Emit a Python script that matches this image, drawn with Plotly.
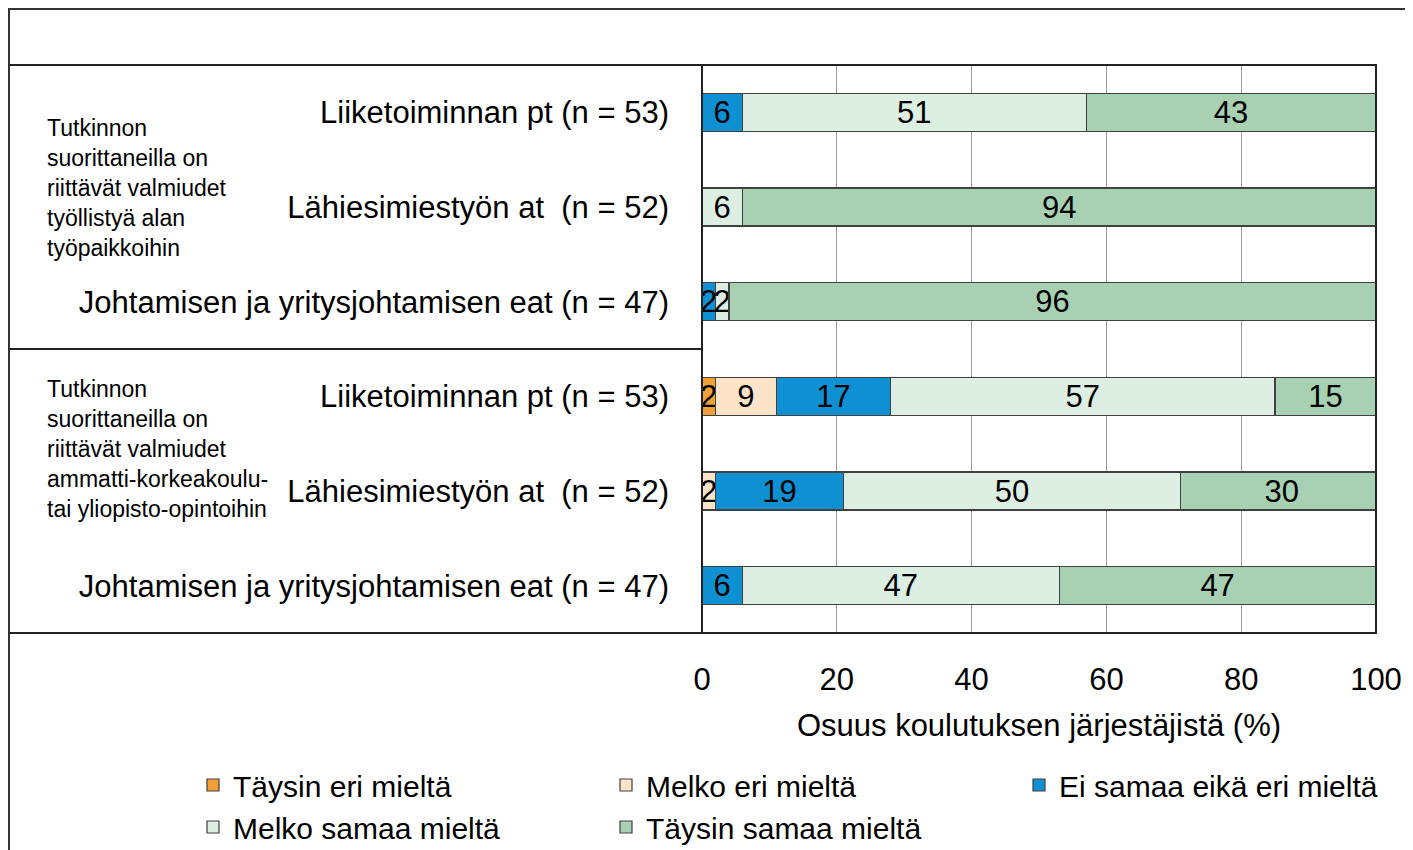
import plotly.graph_objects as go

# data
row_labels = [
    "Liiketoiminnan pt (n = 53)",
    "Lähiesimiestyön at  (n = 52)",
    "Johtamisen ja yritysjohtamisen eat (n = 47)",
    "Liiketoiminnan pt (n = 53)",
    "Lähiesimiestyön at  (n = 52)",
    "Johtamisen ja yritysjohtamisen eat (n = 47)",
]
group_labels = [
    "Tutkinnon<br>suorittaneilla on<br>riittävät valmiudet<br>työllistyä alan<br>työpaikkoihin",
    "Tutkinnon<br>suorittaneilla on<br>riittävät valmiudet<br>ammatti-korkeakoulu-<br>tai yliopisto-opintoihin",
]
series_names = [
    "Täysin eri mieltä",
    "Melko eri mieltä",
    "Ei samaa eikä eri mieltä",
    "Melko samaa mieltä",
    "Täysin samaa mieltä",
]
taysin_eri = [0, 0, 0, 2, 0, 0]
melko_eri = [0, 0, 0, 9, 2, 0]
ei_samaa_eika_eri = [6, 0, 2, 17, 19, 6]
melko_samaa = [51, 6, 2, 57, 50, 47]
taysin_samaa = [43, 94, 96, 15, 30, 47]
x_ticks = [0, 20, 40, 60, 80, 100]

colors = ["#F0A035", "#FDE3C8", "#0E90D2", "#DDEEE2", "#A7D1B2"]
series = [taysin_eri, melko_eri, ei_samaa_eika_eri, melko_samaa, taysin_samaa]
# which of the three legend columns each series goes to
legend_cols = ["legend", "legend2", "legend3", "legend", "legend2"]

# page has an 8px body margin, so work in screen pixels minus 8
OFF = 8
W, H = 1405, 842
L, R, T, B = 702 - OFF, 1405 - (1376 - OFF), 65 - OFF, 842 - (633 - OFF)
font_fam = "Liberation Sans, Arial, sans-serif"


def px(x):
    return (x - OFF - L) / (W - L - R)


def py(y):
    return (H - B - (y - OFF)) / (H - T - B)


ypos = list(range(len(row_labels)))

fig = go.Figure()
for name, vals, col, leg in zip(series_names, series, colors, legend_cols):
    fig.add_trace(go.Bar(
        y=ypos,
        x=[v if v else None for v in vals],
        orientation="h",
        name=name,
        legend=leg,
        marker=dict(color=col, line=dict(color="#404040", width=1.2)),
        text=[str(v) if v else "" for v in vals],
        textposition="inside",
        insidetextanchor="middle",
        textangle=0,
        textfont=dict(family=font_fam, size=31, color="black"),
        hoverinfo="name+x",
    ))

shapes = []
line_col = "#222222"
# outer frame
shapes.append(dict(type="rect", xref="paper", yref="paper",
                   x0=px(9), x1=px(1430), y0=py(9), y1=py(880),
                   line=dict(color="#333333", width=2)))
# table lines on the left
for yy in [65, 349, 633]:
    shapes.append(dict(type="line", xref="paper", yref="paper",
                       x0=px(9), x1=px(702), y0=py(yy), y1=py(yy),
                       line=dict(color=line_col, width=2)))
# plot area box
shapes.append(dict(type="rect", xref="paper", yref="paper",
                   x0=0, x1=1, y0=0, y1=1,
                   line=dict(color=line_col, width=2)))

annotations = []
for i, txt in enumerate(group_labels):
    annotations.append(dict(
        xref="paper", yref="paper", x=px(45), y=py([188, 449][i]),
        xanchor="left", yanchor="middle", align="left", showarrow=False,
        text=txt, font=dict(family=font_fam, size=23, color="black"),
    ))

leg_font = dict(family=font_fam, size=30, color="black")
leg_common = dict(orientation="v", yanchor="top", xanchor="left", font=leg_font,
                  traceorder="normal", bgcolor="rgba(0,0,0,0)")

fig.update_layout(
    width=W, height=H,
    margin=dict(l=L, r=R, t=T, b=B, autoexpand=False),
    barmode="stack",
    bargap=0.6,
    plot_bgcolor="white",
    paper_bgcolor="white",
    font=dict(family=font_fam, size=31, color="black"),
    uniformtext=dict(minsize=31, mode="show"),
    shapes=shapes,
    annotations=annotations,
    legend=dict(x=px(193), y=py(759), **leg_common),
    legend2=dict(x=px(606), y=py(759), **leg_common),
    legend3=dict(x=px(1019), y=py(759), **leg_common),
)
fig.update_xaxes(
    range=[0, 100], tickvals=x_ticks, showgrid=True, gridcolor="#A39A9A", gridwidth=1,
    zeroline=False, showline=False, ticks="",
    ticklabelstandoff=25, tickfont=dict(size=31),
    title=dict(text="Osuus koulutuksen järjestäjistä (%)", font=dict(size=31), standoff=18),
)
fig.update_yaxes(
    tickvals=ypos, ticktext=row_labels, autorange="reversed",
    showgrid=False, zeroline=False, showline=False, ticks="",
    ticklabelstandoff=32, tickfont=dict(size=31),
)

fig.write_html("out.html")
